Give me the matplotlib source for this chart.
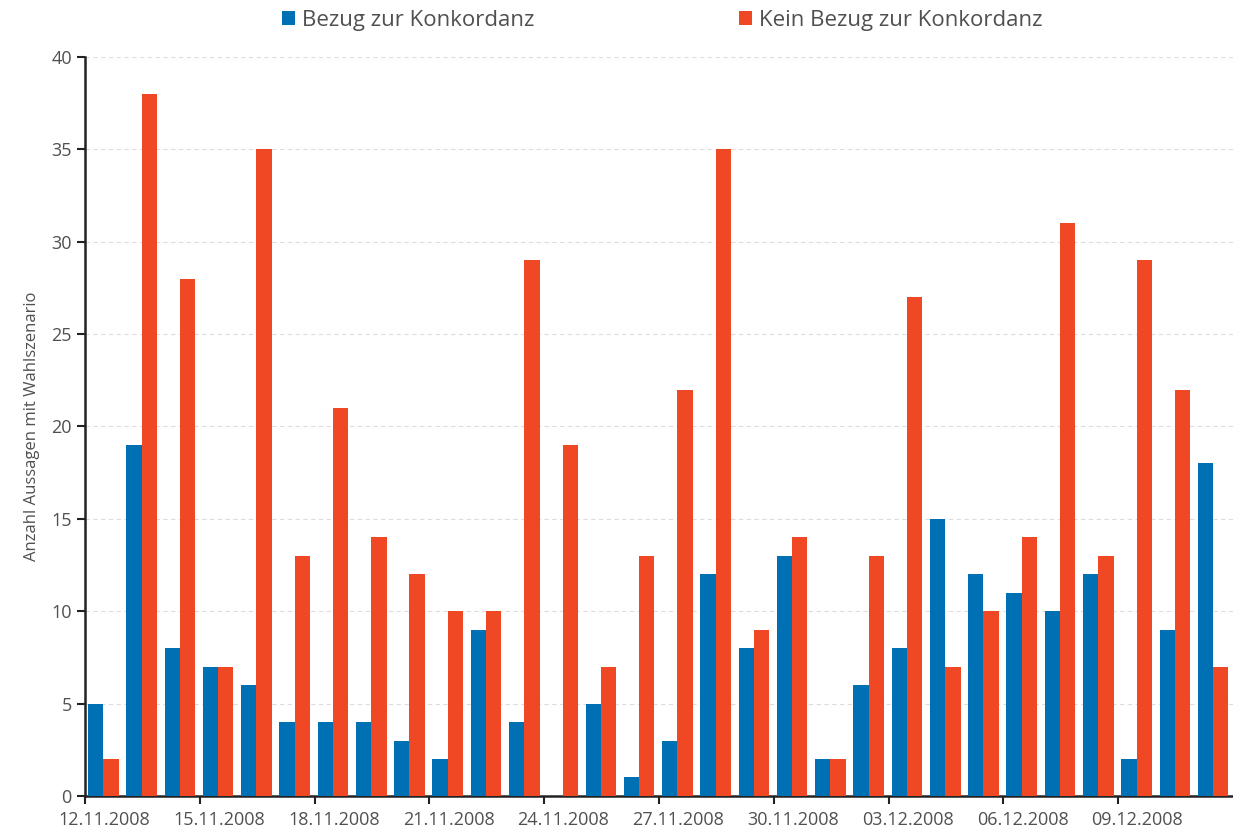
import matplotlib
matplotlib.use("Agg")
import matplotlib.pyplot as plt
import numpy as np

# daily counts, 12.11.2008 - 11.12.2008
bezug = [5, 19, 8, 7, 6, 4, 4, 4, 3, 2, 9, 4, 0, 5, 1, 3, 12, 8, 13, 2,
         6, 8, 15, 12, 11, 10, 12, 2, 9, 18]
kein_bezug = [2, 38, 28, 7, 35, 13, 21, 14, 12, 10, 10, 29, 19, 7, 13, 22, 35, 9, 14, 2,
              13, 27, 7, 10, 14, 31, 13, 29, 22, 7]
tick_labels = ["12.11.2008", "15.11.2008", "18.11.2008", "21.11.2008", "24.11.2008",
               "27.11.2008", "30.11.2008", "03.12.2008", "06.12.2008", "09.12.2008"]
series_names = ["Bezug zur Konkordanz", "Kein Bezug zur Konkordanz"]

plt.rcParams['font.family'] = ['Open Sans', 'DejaVu Sans']
text_col = "#505050"
blue = "#0070b4"
red = "#f04824"

fig = plt.figure(figsize=(12.33, 8.32), dpi=100)
ax = fig.add_axes([0.0689, 0.0433, 0.9311, 0.8882])

days = np.arange(len(bezug))
w = 0.4
ax.bar(days + 0.08, bezug, width=w, align="edge", color=blue,
       label=series_names[0], zorder=3)
ax.bar(days + 0.08 + w, kein_bezug, width=w, align="edge", color=red,
       label=series_names[1], zorder=3)

ax.set_xlim(0, len(bezug))
ax.set_ylim(0, 40)
# tick marks on day boundaries, labels centred on the day
tick_pos = np.arange(0, len(bezug), 3)
ax.set_xticks(tick_pos)
ax.set_xticklabels([])
ax.set_xticks(tick_pos + 0.5, minor=True)
ax.set_xticklabels(tick_labels, minor=True)
ax.set_yticks(range(0, 41, 5))

ax.grid(axis="y", linestyle=(0, (4, 3)), color="#dddddd", linewidth=0.8, zorder=0)
for s in ["top", "right"]:
    ax.spines[s].set_visible(False)
for s in ["left", "bottom"]:
    ax.spines[s].set_linewidth(1.8)
    ax.spines[s].set_color("#222222")

ax.tick_params(axis="both", colors="#222222", width=1.5, length=6,
               labelcolor=text_col, labelsize=13)
ax.tick_params(axis="x", which="minor", length=0, pad=11, labelcolor=text_col, labelsize=13)
ax.set_ylabel("Anzahl Aussagen mit Wahlszenario", color=text_col, fontsize=12, labelpad=8)

fig.legend(loc="upper center", bbox_to_anchor=(0.537, 1.012), ncol=2, frameon=False,
           fontsize=16, handlelength=0.6, handleheight=0.6, handletextpad=0.3,
           columnspacing=9.2, labelcolor=text_col)

fig.savefig("out.png", dpi=100)
